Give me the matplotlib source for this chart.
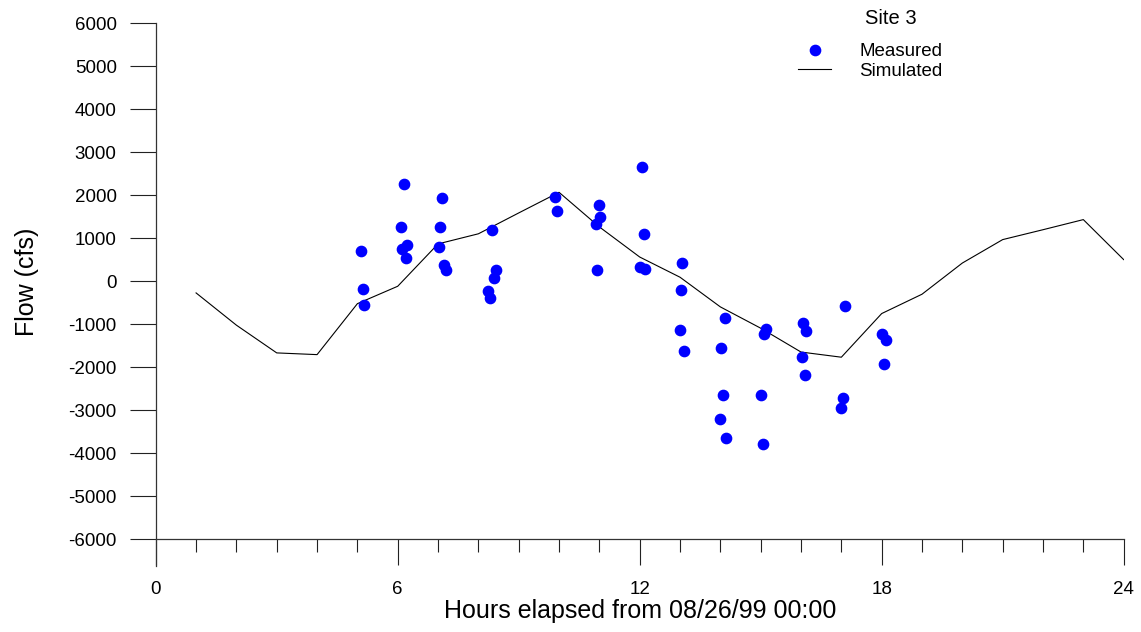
import matplotlib
matplotlib.use("Agg")
import matplotlib.pyplot as plt
from matplotlib.ticker import MultipleLocator

plt.rcParams['font.family'] = ['Liberation Sans', 'DejaVu Sans']
plt.rcParams['axes.unicode_minus'] = False

# simulated hourly flow
sim_hours = [1, 2, 3, 4, 5, 6, 7, 8, 9, 10, 11, 12,
             13, 14, 15, 16, 17, 18, 19, 20, 21, 22, 23, 24]
sim_flow = [-270, -1020, -1665, -1705, -520, -115, 870, 1105, 1590, 2070, 1265, 565,
            95, -595, -1090, -1645, -1765, -750, -300, 425, 970, 1200, 1435, 505]

# measured flow
meas_hours = [5.09, 5.13, 5.16,
              6.15, 6.07, 6.23, 6.11, 6.20,
              7.10, 7.06, 7.02, 7.15, 7.20,
              8.34, 8.43, 8.39, 8.24, 8.30,
              9.90, 9.94,
              10.98, 11.02, 10.91, 10.94,
              12.06, 12.10, 12.01, 12.14,
              13.06, 13.02, 12.99, 13.10,
              14.11, 14.02, 14.06, 13.98, 14.15,
              15.13, 15.09, 15.01, 15.06,
              16.06, 16.13, 16.02, 16.09,
              17.08, 17.03, 16.99,
              18.00, 18.10, 18.05]
meas_flow = [698, -177, -558,
             2272, 1256, 853, 744, 544,
             1940, 1256, 791, 372, 256,
             1186, 265, 79, -216, -386,
             1970, 1644,
             1784, 1488, 1335, 272,
             2651, 1102, 326, 295,
             419, -209, -1123, -1619,
             -853, -1542, -2635, -3209, -3635,
             -1100, -1233, -2635, -3774,
             -967, -1153, -1767, -2186,
             -581, -2712, -2953,
             -1216, -1372, -1930]

x_ticks = [0, 6, 12, 18, 24]
y_ticks = list(range(-6000, 6001, 1000))

fig = plt.figure(figsize=(11.41, 6.32), dpi=100)
ax = fig.add_axes([0.1365, 0.1049, 0.8483, 0.8582])

ax.plot(sim_hours, sim_flow, color='black', lw=0.8, label='Simulated', zorder=2)
ax.plot(meas_hours, meas_flow, ls='none', marker='o', ms=7.4, color='#0000ff',
        mec='#0000ff', label='Measured', zorder=3)

ax.set_xlim(0, 24)
ax.set_ylim(-6614, 6000)
ax.spines['top'].set_visible(False)
ax.spines['right'].set_visible(False)
ax.spines['bottom'].set_position(('data', -6000))
for s in ('left', 'bottom'):
    ax.spines[s].set_linewidth(0.9)
    ax.spines[s].set_color('#333333')

ax.set_xticks(x_ticks)
ax.xaxis.set_minor_locator(MultipleLocator(1))
ax.set_yticks(y_ticks)
ax.tick_params(axis='x', which='major', direction='out', length=18.7, width=0.8,
               pad=11.5, labelsize=13.5, color='#222222')
ax.tick_params(axis='x', which='minor', direction='out', length=9.7, width=0.8,
               color='#222222')
ax.tick_params(axis='y', which='major', direction='out', length=18.7, width=0.8,
               pad=9.4, labelsize=13.5, color='#222222')

ax.set_xlabel('Hours elapsed from 08/26/99 00:00', fontsize=18)
ax.set_ylabel('Flow (cfs)', fontsize=18)
ax.xaxis.set_label_coords(0.5, -0.0614)
ax.yaxis.set_label_coords(-0.121, 0.524)

handles, labels = ax.get_legend_handles_labels()
ax.legend(handles[::-1], labels[::-1], loc='upper left', frameon=False,
          bbox_to_anchor=(798 / 1141, 1 - 43 / 632), bbox_transform=fig.transFigure,
          fontsize=13.5, borderpad=0, borderaxespad=0, handlelength=1.76,
          handletextpad=1.5, labelspacing=0.12)
fig.text(891 / 1141, 1 - 18 / 632, 'Site 3', fontsize=14.5, ha='center', va='center')

fig.savefig('out.png', dpi=100)
